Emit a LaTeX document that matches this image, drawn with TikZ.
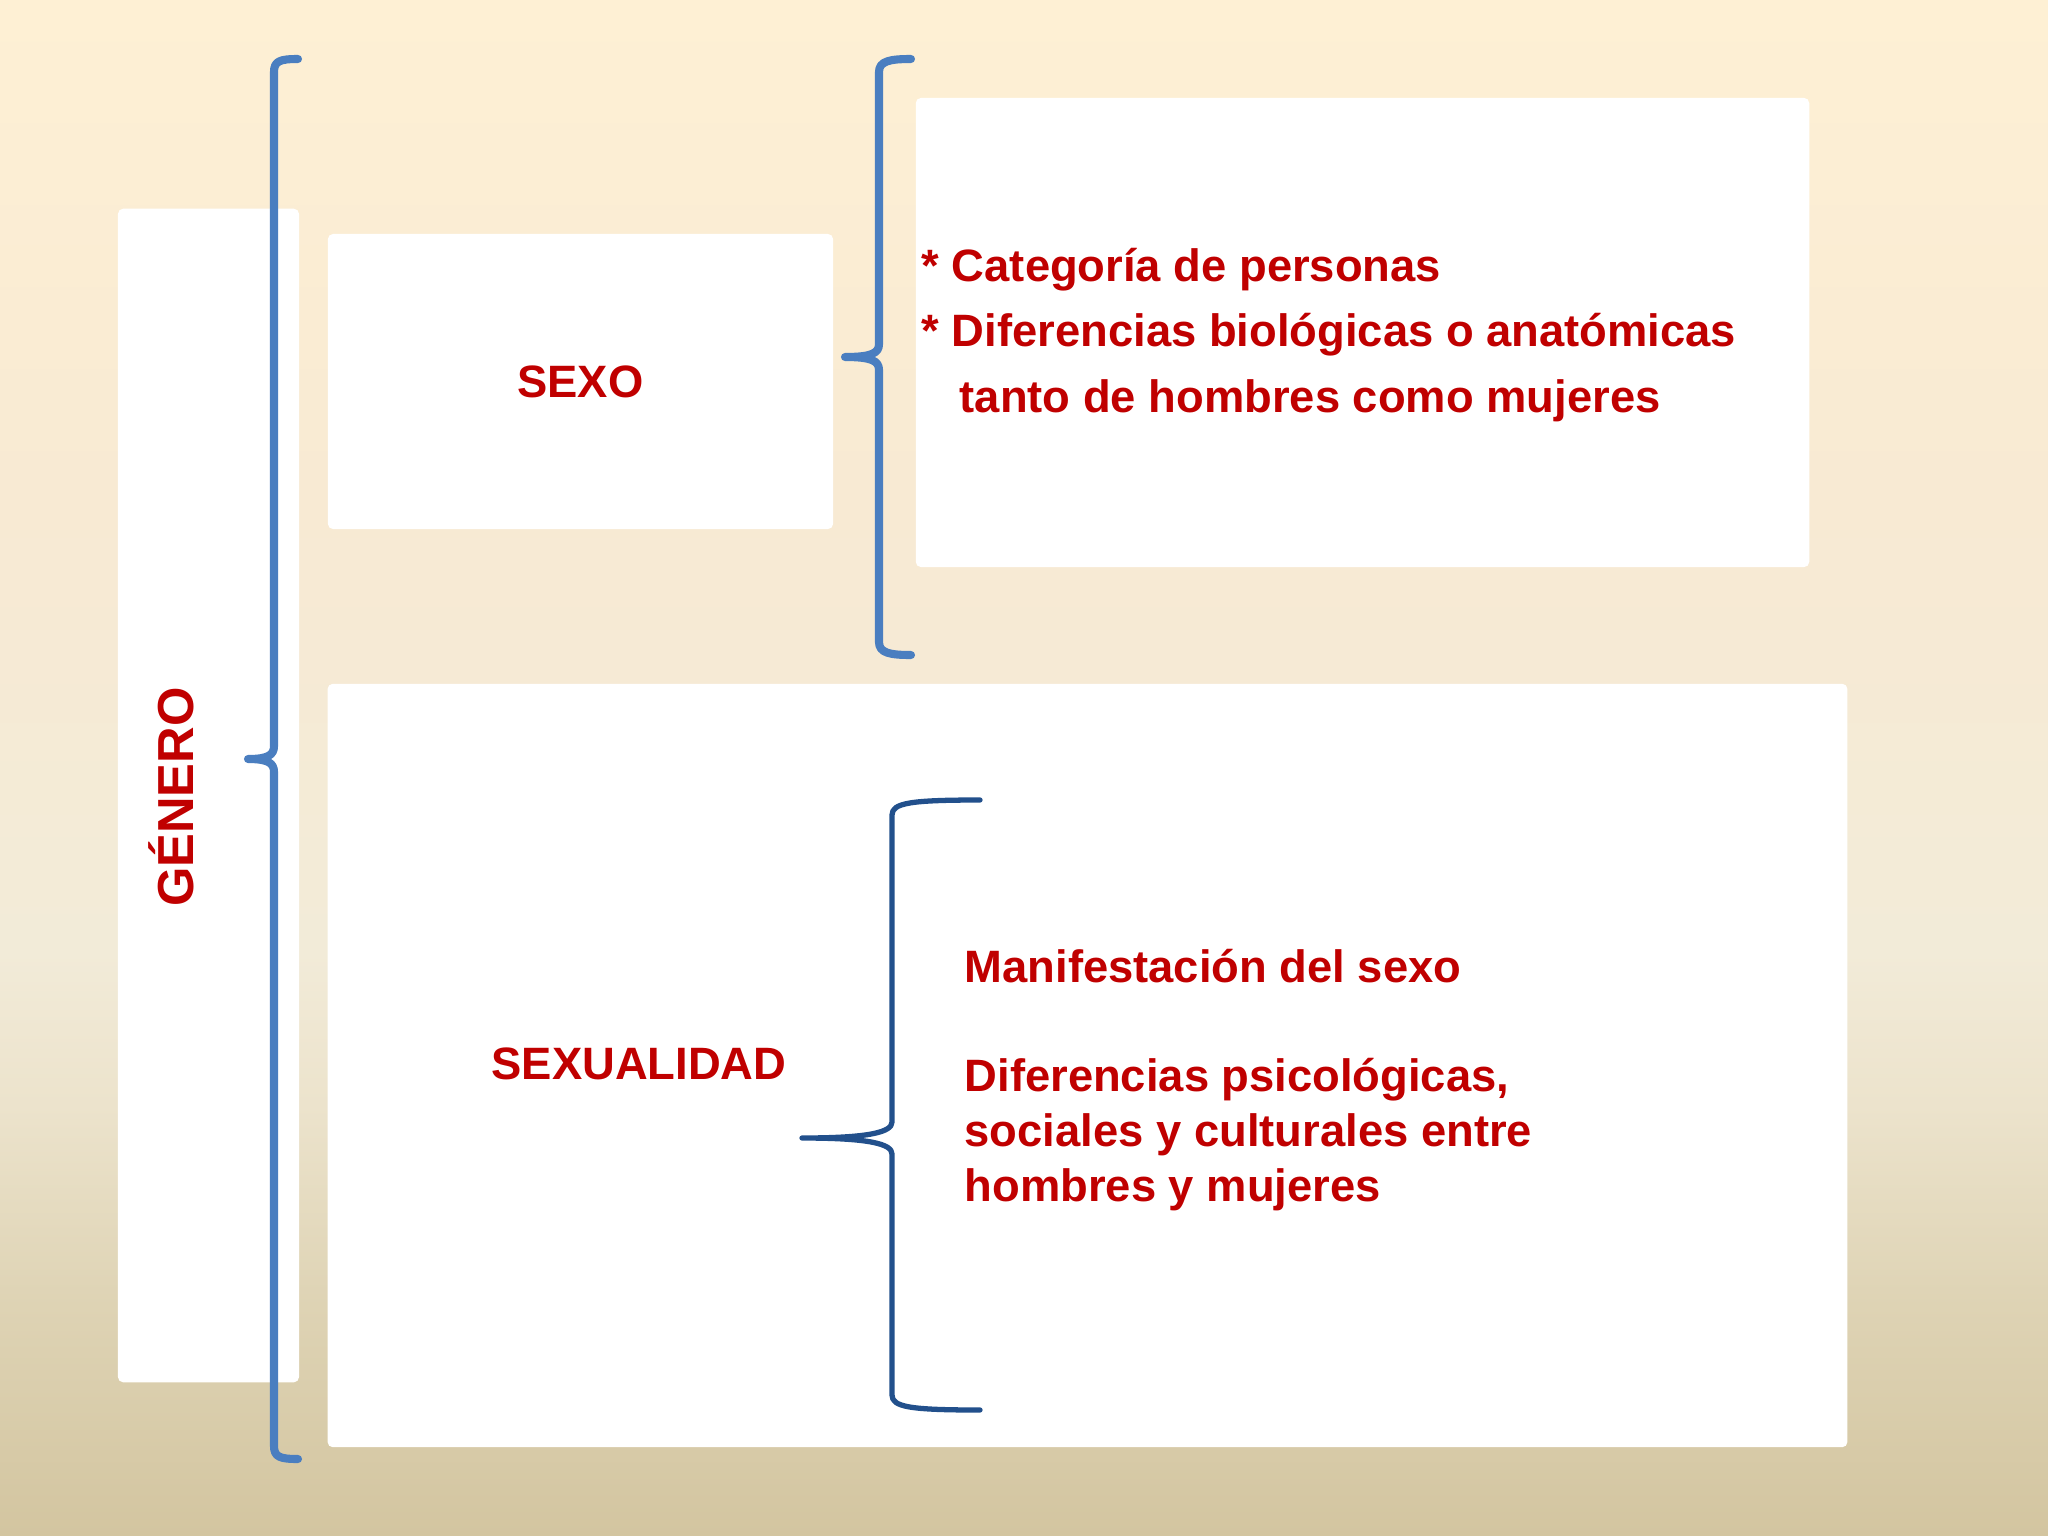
\documentclass[tikz,border=0pt]{standalone}
\usepackage{fontspec}
\setmainfont{Liberation Sans}
\usetikzlibrary{positioning}

\definecolor{txtred}{RGB}{192,0,0}
\definecolor{bracelight}{RGB}{74,126,192}
\definecolor{bracedark}{RGB}{34,80,140}
\definecolor{bgtop}{RGB}{254,240,212}
\definecolor{bghigh}{RGB}{248,234,211}
\definecolor{bgmid}{RGB}{242,235,216}
\definecolor{bglow}{RGB}{236,227,204}
\definecolor{bgsand}{RGB}{222,211,180}
\definecolor{bgbot}{RGB}{211,197,160}

% stops between 25bp and 75bp cover the filled path
\pgfdeclareverticalshading{bgfade}{100bp}{color(0bp)=(bgbot); color(25bp)=(bgbot);
  color(32.5bp)=(bgsand); color(39bp)=(bglow); color(44bp)=(bgmid);
  color(59bp)=(bghigh); color(75bp)=(bgtop); color(100bp)=(bgtop)}

\begin{document}
\begin{tikzpicture}[x=0.01cm, y=-0.01cm]

\tikzstyle{card} = [fill=white, rounded corners=1.5pt, inner sep=0pt]
\tikzstyle{label} = [text=txtred, inner sep=0pt, font=\bfseries\fontsize{12.9}{16}\selectfont]
\tikzstyle{brace} = [line width=2.3pt, bracelight, line cap=round, line join=round]
\tikzstyle{thinbrace} = [line width=1.5pt, bracedark, line cap=round, line join=round]

% Background
\shade [shading=bgfade] (0,0) rectangle (2048,1536);
\useasboundingbox (0,0) rectangle (2048,1536);

% White cards
\node (generobox) [card, minimum width=1.81cm, minimum height=11.73cm] at (208.5,795.5) {};
\node (sexobox) [card, minimum width=5.05cm, minimum height=2.95cm] at (580.5,381.5) {};
\node (rasgosbox) [card, minimum width=8.93cm, minimum height=4.69cm] at (1362.5,332.5) {};
\node (sexualidadbox) [card, minimum width=15.19cm, minimum height=7.63cm] at (1087.5,1065.5) {};

% Labels
\node (genero) [label, rotate=90, font=\bfseries\fontsize{14.4}{17}\selectfont] at (171,797) {GÉNERO};
\node (sexo) [label] at (sexobox) {SEXO};
\node (sexualidad) [label] at (639,1064) {SEXUALIDAD};

\node (rasgos1) [label, anchor=west] at (921,270) {* Categoría de personas};
\node (rasgos2) [label, anchor=west] at (921,335) {* Diferencias biológicas o anatómicas};
\node (rasgos3) [label, anchor=west] at (959,401) {tanto de hombres como mujeres};

\node (manifest) [label, anchor=west] at (964,966) {Manifestación del sexo};
\node (difer) [label, anchor=north west, align=left,
  font=\bfseries\fontsize{12.9}{15.6}\selectfont] at (964,1058)
  {Diferencias psicológicas,\\sociales y culturales entre\\hombres y mujeres};

% Left brace
\draw [brace] (298,59) .. controls (280,59) and (274,61) .. (274,72)
  -- (274,746) .. controls (274,755) and (268,759) .. (248,759)
  .. controls (268,759) and (274,763) .. (274,772)
  -- (274,1446) .. controls (274,1457) and (280,1459) .. (298,1459);

% Middle brace
\draw [brace] (911,59) .. controls (890,59) and (879,61) .. (879,72)
  -- (879,344) .. controls (879,353) and (872,357) .. (845,357)
  .. controls (872,357) and (879,361) .. (879,370)
  -- (879,642) .. controls (879,653) and (890,655) .. (911,655);

% Lower brace
\draw [thinbrace] (980,800) .. controls (910,800) and (892,803) .. (892,815)
  -- (892,1122) .. controls (892,1132) and (870,1138) .. (802,1138)
  .. controls (870,1138) and (892,1144) .. (892,1154)
  -- (892,1395) .. controls (892,1407) and (910,1410) .. (980,1410);

\end{tikzpicture}
\end{document}
